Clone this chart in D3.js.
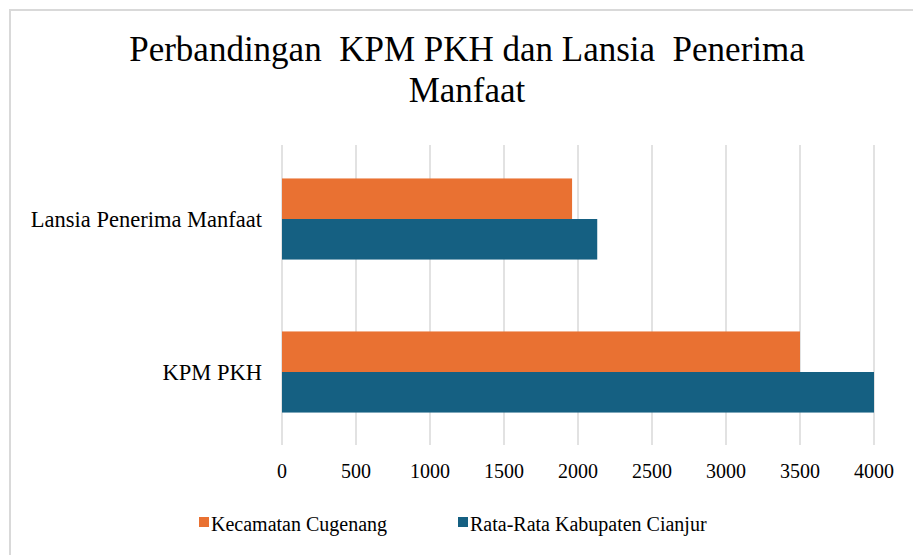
<!DOCTYPE html>
<meta charset="utf-8">
<head>
<style>
body { margin: 0; background: #fff; }
svg text { font-family: "Liberation Serif", "Times New Roman", serif; fill: #000; white-space: pre; }
</style>
<script src="https://d3js.org/d3.v7.min.js"></script>
</head>
<body>
<div id="chart"></div>
<script>
var categories = ["Lansia Penerima Manfaat", "KPM PKH"];
var seriesNames = ["Kecamatan Cugenang", "Rata-Rata Kabupaten Cianjur"];
var cugenang = [1960, 3500];
var cianjur = [2130, 4000];
var xTicks = [0, 500, 1000, 1500, 2000, 2500, 3000, 3500, 4000];
var colors = ["#e97132", "#156082"];

var width = 913, height = 555;
var svg = d3.select("#chart").append("svg")
    .attr("width", width)
    .attr("height", height);

// chart frame (only left and top edges show in the crop)
svg.append("path")
    .attr("d", "M10,555 L10,10 L913,10")
    .attr("fill", "none")
    .attr("stroke", "#d9d9d9")
    .attr("stroke-width", 2);

var title = svg.append("text")
    .attr("text-anchor", "middle")
    .attr("font-size", 35);
title.append("tspan").attr("x", 467).attr("y", 61).text("Perbandingan  KPM PKH dan Lansia  Penerima");
title.append("tspan").attr("x", 467).attr("y", 102).text("Manfaat");

var x = d3.scaleLinear().domain([0, 4000]).range([282, 874]);
var y = d3.scaleBand().domain(categories).range([142.5, 448.5]).paddingInner(0.47).paddingOuter(0.235);
var ySub = d3.scaleBand().domain(seriesNames).range([0, y.bandwidth()]);

// gridlines
svg.append("g").selectAll("line")
    .data(xTicks)
    .join("line")
    .attr("x1", d => x(d)).attr("x2", d => x(d))
    .attr("y1", 145).attr("y2", 445)
    .attr("stroke", "#d9d9d9")
    .attr("stroke-width", 1.5);

var rows = categories.map((c, i) => ({cat: c, vals: [cugenang[i], cianjur[i]]}));

var groups = svg.append("g").selectAll("g")
    .data(rows)
    .join("g")
    .attr("transform", d => "translate(0," + y(d.cat) + ")");

groups.selectAll("rect")
    .data(d => d.vals.map((v, j) => ({name: seriesNames[j], v: v, j: j})))
    .join("rect")
    .attr("x", x(0))
    .attr("y", d => ySub(d.name))
    .attr("width", d => x(d.v) - x(0))
    .attr("height", ySub.bandwidth())
    .attr("fill", d => colors[d.j]);

// category labels
svg.append("g").selectAll("text")
    .data(categories)
    .join("text")
    .attr("x", 262)
    .attr("y", d => y(d) + y.bandwidth() / 2 + 8)
    .attr("text-anchor", "end")
    .attr("font-size", 22.5)
    .text(d => d);

// x tick labels
svg.append("g").selectAll("text")
    .data(xTicks)
    .join("text")
    .attr("x", d => x(d))
    .attr("y", 478)
    .attr("text-anchor", "middle")
    .attr("font-size", 20)
    .text(d => d);

// legend
var legendX = [199, 458];
var legend = svg.append("g").selectAll("g")
    .data(seriesNames)
    .join("g")
    .attr("transform", (d, i) => "translate(" + legendX[i] + ",517)");
legend.append("rect")
    .attr("width", 10).attr("height", 10)
    .attr("fill", (d, i) => colors[i]);
legend.append("text")
    .attr("x", 12).attr("y", 14)
    .attr("font-size", 20)
    .text(d => d);
</script>
</body>
